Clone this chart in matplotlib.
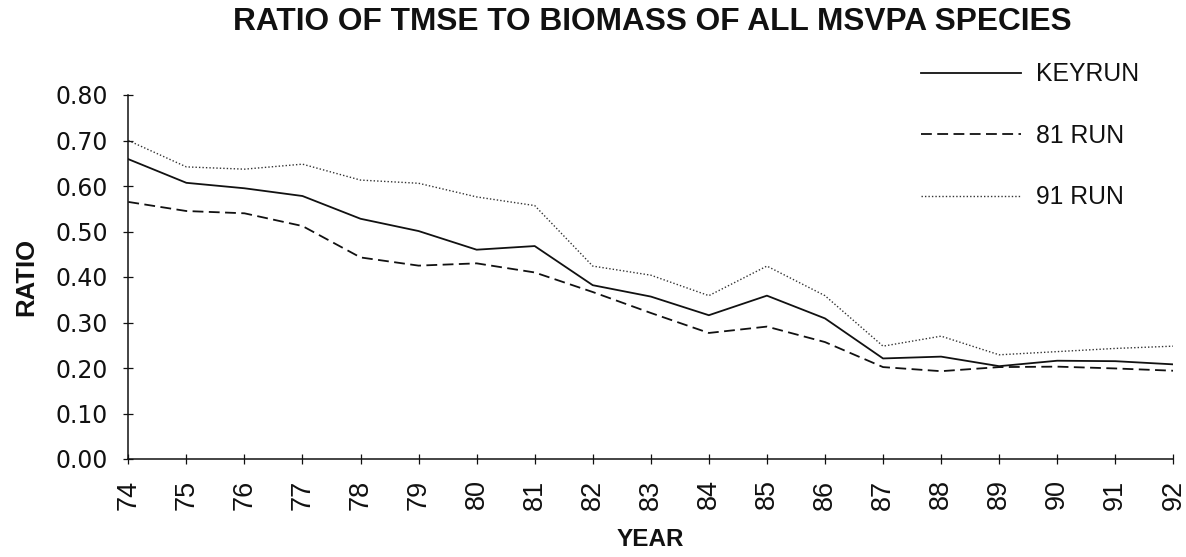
import matplotlib
matplotlib.use("Agg")
import matplotlib.pyplot as plt

years = [74, 75, 76, 77, 78, 79, 80, 81, 82, 83, 84, 85, 86, 87, 88, 89, 90, 91, 92]
keyrun = [0.659, 0.607, 0.595, 0.578, 0.528, 0.501, 0.460, 0.468, 0.382, 0.357,
          0.316, 0.359, 0.309, 0.221, 0.225, 0.204, 0.216, 0.215, 0.208]
run81 = [0.565, 0.545, 0.540, 0.512, 0.443, 0.425, 0.430, 0.410, 0.367, 0.321,
         0.277, 0.291, 0.257, 0.202, 0.193, 0.202, 0.203, 0.199, 0.194]
run91 = [0.700, 0.642, 0.637, 0.648, 0.613, 0.606, 0.576, 0.557, 0.424, 0.404,
         0.359, 0.424, 0.359, 0.248, 0.270, 0.229, 0.236, 0.243, 0.248]
series_labels = ["KEYRUN", "81 RUN", "91 RUN"]
yticks = [0.0, 0.1, 0.2, 0.3, 0.4, 0.5, 0.6, 0.7, 0.8]
title = "RATIO OF TMSE TO BIOMASS OF ALL MSVPA SPECIES"

W, H = 1186, 557
fig = plt.figure(figsize=(W / 100, H / 100), dpi=100)
ax = fig.add_axes([128.3 / W, 1 - 459 / H, (1173.3 - 128.3) / W, (459 - 95) / H])

ax.plot(years, keyrun, color="#111111", lw=1.3, ls="-", label=series_labels[0])
ax.plot(years, run81, color="#111111", lw=1.3, ls=(0, (6, 3)), label=series_labels[1])
ax.plot(years, run91, color="#333333", lw=1.0, ls=(0, (1, 1.5)), label=series_labels[2])

ax.set_xlim(years[0], years[-1])
ax.set_ylim(0, 0.8)
ax.set_xticks(years)
ax.set_xticklabels([str(y) for y in years], rotation=90, fontsize=19.5,
                   family="Liberation Sans")
ax.set_yticks(yticks)
ax.set_yticklabels([f"{v:.2f}" for v in yticks], fontsize=17, family="DejaVu Sans")
ax.tick_params(axis="both", direction="inout", length=7.5, width=0.9, pad=11,
               colors="#111111")
for s in ["top", "right"]:
    ax.spines[s].set_visible(False)
for s in ["left", "bottom"]:
    ax.spines[s].set_linewidth(1.1)
    ax.spines[s].set_color("#111111")

fig.text(650 / W, 1 - 539 / H, "YEAR", ha="center", va="center", fontsize=17.5,
         fontweight="bold", family="Liberation Sans", color="#111111")
fig.text(26 / W, 1 - 277 / H, "RATIO", ha="center", va="center", rotation=90,
         fontsize=18.5, fontweight="bold", family="Liberation Sans", color="#111111")
fig.text(652 / W, 1 - 22.5 / H, title, ha="center", va="center", fontsize=22.8,
         fontweight="bold", family="Liberation Sans", color="#111111")

leg = ax.legend(loc="upper left", bbox_to_anchor=(904 / W, 1 - 45 / H),
                bbox_transform=fig.transFigure, frameon=False,
                prop={"family": "Liberation Sans", "size": 17.8},
                handlelength=4.05, handletextpad=0.6, labelspacing=1.52,
                borderpad=0.2)
for t in leg.get_texts():
    t.set_color("#111111")

fig.savefig("out.png", dpi=100)
